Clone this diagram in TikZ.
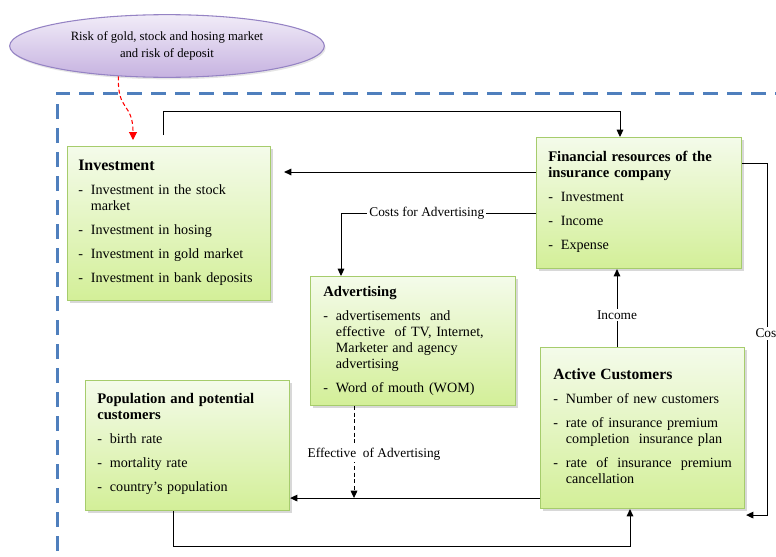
\documentclass[tikz,border=0pt]{standalone}
\usepackage{fontspec}
\setmainfont{Liberation Serif}
\usetikzlibrary{arrows.meta, calc, positioning, shapes.geometric, shadows}

\definecolor{boxtop}{HTML}{F4FBEA}
\definecolor{boxbot}{HTML}{D3EF98}
\definecolor{boxline}{HTML}{A6CC6C}
\definecolor{elltop}{HTML}{F1ECF8}
\definecolor{ellbot}{HTML}{C6B2E0}
\definecolor{ellline}{HTML}{9583C4}
\definecolor{frameblue}{HTML}{4F7FBD}

\newcommand{\bitem}[1]{\par\hangindent=9.5pt\hangafter=1\noindent\makebox[9.5pt][l]{-}#1}
\newcommand{\hd}[2][11]{\textbf{\fontsize{#1}{12.75}\selectfont #2}}

\begin{document}
\begin{tikzpicture}[
  x=0.75pt, y=-0.75pt,
  gbox/.style={draw=boxline, line width=0.8pt, top color=boxtop,
               bottom color=boxbot, anchor=north west, inner sep=0pt,
               drop shadow={shadow xshift=1.5pt, shadow yshift=-1.5pt,
                            fill=black!30}},
  btxt/.style={anchor=north west, inner sep=0pt, text width=142pt,
               align=left, font=\fontsize{10.6}{12}\selectfont,
               execute at begin node={\setlength{\parskip}{6pt}}},
  arr/.style={-{Triangle[length=5.5pt, width=5pt]}, line width=0.75pt},
  darr/.style={arr, dash pattern=on 3pt off 2pt},
  rarr/.style={-{Triangle[length=6pt, width=6pt]}, red, line width=0.8pt,
               dash pattern=on 3pt off 2pt},
  lbl/.style={fill=white, inner sep=1.5pt, font=\fontsize{10}{12}\selectfont},
]
  \useasboundingbox (0,0) rectangle (776,557);
  \clip (0,0) rectangle (776,557);

  %% ── Frame ──
  \draw[frameblue, line width=2.25pt, dash pattern=on 11pt off 7pt]
    (57,575) |- (800,93);

  %% ── Risk ──
  \node[ellipse, draw=ellline, line width=0.8pt, top color=elltop,
        bottom color=ellbot, minimum width=236pt, minimum height=47pt,
        align=center, font=\fontsize{9.5}{12.75}\selectfont,
        drop shadow={shadow xshift=1pt, shadow yshift=-1.5pt, fill=black!20}]
    (risk) at (167,46) {Risk of gold, stock and hosing market\\and risk of deposit};

  %% ── Investment ──
  \node[gbox, minimum width=152.25pt, minimum height=115.5pt] (inv) at (67,146) {};
  \node[btxt] (invT) at ([shift={(11,14)}]inv.north west)
    {\hd[12]{Investment}
     \bitem{Investment in the stock\newline market}
     \bitem{Investment in hosing}
     \bitem{Investment in gold market}
     \bitem{Investment in bank deposits}\par};

  %% ── Financial resources ──
  \node[gbox, minimum width=153.75pt, minimum height=98.25pt] (fin) at (536,137) {};
  \node[btxt] (finT) at ([shift={(12,14)}]fin.north west)
    {\hd{Financial resources of the\newline insurance company}
     \bitem{Investment}
     \bitem{Income}
     \bitem{Expense}\par};

  %% ── Advertising ──
  \node[gbox, minimum width=153.75pt, minimum height=96.75pt] (adv) at (310,276) {};
  \node[btxt] (advT) at ([shift={(13,10)}]adv.north west)
    {\hd{Advertising}
     \bitem{advertisements\ \ and\newline effective\ \ of TV, Internet,\newline
            Marketer and agency\newline advertising}
     \bitem{Word of mouth (WOM)}\par};

  %% ── Population ──
  \node[gbox, minimum width=153pt, minimum height=97.5pt] (pop) at (85,380) {};
  \node[btxt] (popT) at ([shift={(12,13)}]pop.north west)
    {\hd{Population and potential\newline customers}
     \bitem{birth rate}
     \bitem{mortality rate}
     \bitem{country's population}\par};

  %% ── Active Customers ──
  \node[gbox, minimum width=153pt, minimum height=120.75pt] (act) at (540,347) {};
  \node[btxt, text width=134pt] (actT) at ([shift={(13,21)}]act.north west)
    {\hd[11.7]{Active Customers}
     \bitem{Number of new customers}
     \bitem{rate of insurance premium\newline completion\ \ insurance plan}
     \bitem{rate\hfill of\hfill insurance\hfill premium\newline cancellation}\par};

  %% ═══════ ARROWS ═══════
  \coordinate (finInv) at ([shift={(0,35)}]fin.north west);
  \coordinate (finAdv) at ([shift={(0,76)}]fin.north west);
  \coordinate (actPop) at ([shift={(0,-11)}]act.south west);
  \coordinate (advEff) at ([shift={(44,0)}]adv.south west);
  \coordinate (advMeet) at (advEff |- actPop);

  \draw[rarr] (risk.212) .. controls (117,112) and (133,102) ..
    ([shift={(66,-6)}]inv.north west);

  \draw[arr] ([shift={(96,-11)}]inv.north west) -- ++(0,-24) -|
    ([shift={(84,0)}]fin.north west);

  \draw[arr, shorten >=9.75pt] (finInv) -- (finInv -| inv.east);

  \draw[arr] (finAdv) -| node[lbl, pos=0.28] {Costs for Advertising}
    ([shift={(31,0)}]adv.north west);

  \draw[arr] ([shift={(77,0)}]act.north west) -- node[lbl, pos=0.41] {Income}
    ([shift={(81,0)}]fin.south west);

  \draw[arr] ([shift={(0,26)}]fin.north east) -- ++(25,0) |-
    node[lbl, pos=0.242, anchor=west, xshift=-10.5pt] {Cos}
    ([shift={(1,6)}]act.south east);

  \draw[arr] (actPop) -- (actPop -| pop.east);

  \draw[darr] (advEff) -- node[lbl, pos=0.52, xshift=15pt]
    {Effective\ \ of Advertising} (advMeet);

  \draw[arr] ([shift={(88,0)}]pop.south west) -- ++(0,35) -|
    ([shift={(90,0)}]act.south west);
\end{tikzpicture}
\end{document}
